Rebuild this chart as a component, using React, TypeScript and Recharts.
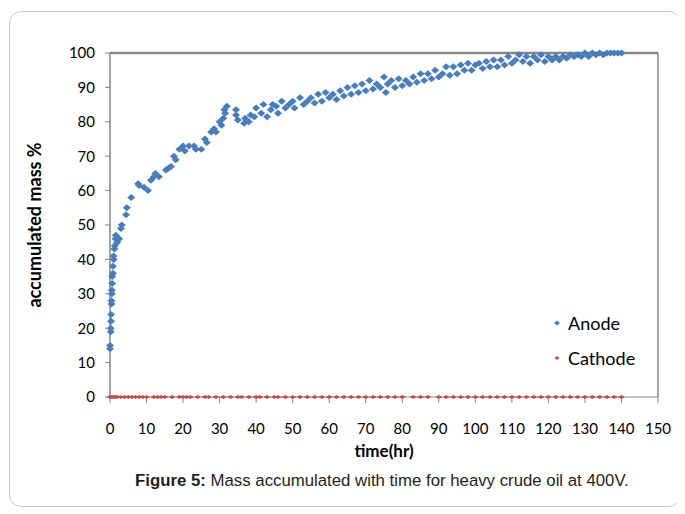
import React from 'react';
import { ScatterChart, Scatter, XAxis, YAxis } from 'recharts';

// anode readings: time (hr) and accumulated mass (%)
const anodeTime = [
  0, 0, 0.2, 0.2, 0.3, 0.3, 0.4, 0.4, 0.5, 0.5, 0.6, 0.6, 0.8, 0.8, 1, 1, 1.2, 1.3, 1.5, 1.6,
  2, 2.5, 3, 3.2, 4.4, 4.6, 5.8, 7.7, 8, 9.3, 10.4, 11.2, 12, 12.4, 13.4, 15.3, 16, 16.7, 17.5, 18,
  19, 20, 20.5, 21.6, 23, 23.5, 25, 26, 26.5, 27.7, 28.5, 29, 30, 30.5, 31, 31.3, 31.5, 32, 34.5, 34.5,
  35, 36.7, 37, 38, 38.5, 39.5, 40, 41.4, 42, 43, 44, 44.5, 45.5, 46, 47, 48, 49, 50, 50.5, 52,
  53, 54, 55, 56, 57, 58, 59, 60, 61, 62, 63, 64, 65, 66, 67, 68, 69, 70, 71, 72,
  73, 74, 75, 75.5, 76, 77, 78, 79, 80, 81, 82, 83, 84, 85, 86, 87, 88, 89, 90, 91,
  92, 93, 94, 95, 96, 97, 98, 99, 100, 101, 102, 103, 104, 105, 106, 107, 108, 109, 110, 111,
  112, 113, 114, 115, 116, 117, 118, 119, 120, 121, 122, 123, 124, 125, 126, 127, 128, 129, 130, 131,
  132, 133, 134, 135, 136, 137, 138, 139, 140,
];
const anodeMass = [
  14, 15, 19, 20, 22, 24, 27, 28, 30, 31, 33, 35, 36, 38, 40, 41, 43, 44, 46, 47,
  45, 46, 49, 50, 53, 55, 58, 62, 61.5, 61, 60, 63, 64, 65, 64, 66, 66.5, 67, 70, 69,
  72, 73, 71.5, 73, 73, 72, 72, 75, 74, 77, 78, 77, 80, 79, 81, 83.5, 82.5, 84.5, 83.5, 82,
  80.5, 79.6, 81, 80, 82, 81.5, 84, 82.5, 85, 81.5, 83.5, 85, 84.5, 82.5, 86, 84, 85, 86, 84, 87,
  85, 86, 87, 85.5, 88, 86, 88.5, 87, 88, 86.5, 89, 87.5, 90, 88, 90.5, 88.5, 91, 89, 92, 89.5,
  91, 90, 93, 88.5, 91, 92, 90, 92.5, 90.5, 92, 91, 93, 91.5, 94, 92, 94, 92.5, 95, 93, 94,
  96, 93.5, 96, 94, 96.5, 95, 97, 95, 96.5, 97, 95.5, 97.5, 96, 98, 96, 98, 96.5, 99, 97, 98,
  99.5, 97.5, 99, 97, 99, 98, 99.5, 97.5, 99, 98, 99, 98, 99, 98.5, 99.5, 99, 99.5, 99, 100, 99,
  100, 99.5, 100, 99.5, 100, 100, 100, 100, 100,
];

// cathode readings stay at zero
const cathodeTime = [
  0, 0.5, 1, 1.5, 2, 3, 4, 5, 6, 7, 8, 9, 10, 12, 13, 14, 15, 17, 19, 20,
  21, 22, 24, 26, 27, 29, 31, 33, 35, 36, 38, 40, 41, 43, 45, 46, 48, 50, 52, 54,
  56, 58, 60, 62, 64, 66, 68, 70, 72, 74, 76, 78, 80, 83, 85, 87, 90, 92, 94, 96,
  98, 100, 102, 104, 106, 108, 110, 112, 114, 116, 118, 120, 122, 124, 126, 128, 130, 132, 134, 136,
  138, 140,
];
const cathodeMass = [
  0, 0, 0, 0, 0, 0, 0, 0, 0, 0, 0, 0, 0, 0, 0, 0, 0, 0, 0, 0,
  0, 0, 0, 0, 0, 0, 0, 0, 0, 0, 0, 0, 0, 0, 0, 0, 0, 0, 0, 0,
  0, 0, 0, 0, 0, 0, 0, 0, 0, 0, 0, 0, 0, 0, 0, 0, 0, 0, 0, 0,
  0, 0, 0, 0, 0, 0, 0, 0, 0, 0, 0, 0, 0, 0, 0, 0, 0, 0, 0, 0,
  0, 0,
];

const xTicks = [0, 10, 20, 30, 40, 50, 60, 70, 80, 90, 100, 110, 120, 130, 140, 150];
const yTicks = [0, 10, 20, 30, 40, 50, 60, 70, 80, 90, 100];

const anodeData = anodeTime.map((t, i) => ({ t, v: anodeMass[i] }));
const cathodeData = cathodeTime.map((t, i) => ({ t, v: cathodeMass[i] }));

const BLUE = '#4a7ebb';
const RED = '#c0504d';
const AXIS = '#868686';
const FONT = 'Lato, "Open Sans", sans-serif';

const Diamond = ({ cx, cy }) => (
  <polygon
    points={`${cx - 4},${cy} ${cx},${cy - 3.5} ${cx + 4},${cy} ${cx},${cy + 3.5}`}
    fill={BLUE}
  />
);

const Dash = ({ cx, cy }) => (
  <polygon
    points={`${cx - 3.5},${cy} ${cx},${cy - 2} ${cx + 3.5},${cy} ${cx},${cy + 2}`}
    fill={RED}
  />
);

const LegendBox = () => {
  const items = [
    { name: 'Anode', color: BLUE, w: 3, h: 2.5 },
    { name: 'Cathode', color: RED, w: 2.5, h: 2 },
  ];
  return (
    <div style={{
      position: 'absolute', left: 542, top: 293,
      fontFamily: FONT, fontSize: 18, color: '#000',
    }}>
      {items.map(it => (
        <div key={it.name} style={{ display: 'flex', alignItems: 'center', height: 35 }}>
          <svg width={10} height={10}>
            <polygon
              points={`${5 - it.w},5 5,${5 - it.h} ${5 + it.w},5 5,${5 + it.h}`}
              fill={it.color}
            />
          </svg>
          <span style={{ marginLeft: 6 }}>{it.name}</span>
        </div>
      ))}
    </div>
  );
};

const App = () => {
  return (
    <div style={{
      position: 'relative',
      width: 670,
      height: 494,
      marginTop: 3,
      marginLeft: 1,
      border: '1px solid #c8c8c8',
      borderRadius: 12,
      background: '#fff',
    }}>
      <ScatterChart
        width={668}
        height={460}
        margin={{ top: 40, right: 18, left: 0, bottom: 15 }}
      >
        <XAxis
          xAxisId="top"
          orientation="top"
          type="number"
          dataKey="t"
          domain={[0, 150]}
          height={1}
          tick={false}
          tickLine={false}
          axisLine={{ stroke: AXIS, strokeWidth: 2.5 }}
        />
        <YAxis
          yAxisId="right"
          orientation="right"
          type="number"
          dataKey="v"
          domain={[0, 100]}
          width={2}
          tick={false}
          tickLine={false}
          axisLine={{ stroke: AXIS, strokeWidth: 1.5 }}
        />
        <XAxis
          xAxisId="main"
          type="number"
          dataKey="t"
          domain={[0, 150]}
          ticks={xTicks}
          interval={0}
          height={60}
          tickSize={6}
          tickMargin={20}
          axisLine={{ stroke: AXIS }}
          tickLine={{ stroke: AXIS }}
          tick={{ fill: '#000', fontSize: 15, fontFamily: FONT }}
          label={{
            value: 'time(hr)',
            position: 'insideBottom',
            offset: 0,
            style: { fill: '#000', fontSize: 17, fontWeight: 700, fontFamily: FONT },
          }}
        />
        <YAxis
          yAxisId="main"
          type="number"
          dataKey="v"
          domain={[0, 100]}
          ticks={yTicks}
          interval={0}
          width={100}
          tickSize={5}
          tickMargin={10}
          axisLine={{ stroke: AXIS, strokeWidth: 1.5 }}
          tickLine={{ stroke: AXIS }}
          tick={{ fill: '#000', fontSize: 15, fontFamily: FONT }}
          label={{
            value: 'accumulated mass %',
            angle: -90,
            position: 'insideLeft',
            offset: 25,
            style: { textAnchor: 'middle', fill: '#000', fontSize: 18, fontWeight: 700, fontFamily: FONT },
          }}
        />
        <Scatter
          name="Anode"
          data={anodeData}
          xAxisId="main"
          yAxisId="main"
          fill={BLUE}
          shape={<Diamond />}
          isAnimationActive={false}
        />
        <Scatter
          name="Cathode"
          data={cathodeData}
          xAxisId="main"
          yAxisId="main"
          fill={RED}
          shape={<Dash />}
          isAnimationActive={false}
        />
      </ScatterChart>
      <LegendBox />
      <div style={{
        position: 'absolute',
        left: 125,
        top: 459,
        whiteSpace: 'nowrap',
        fontFamily: '"Liberation Sans", Arial, sans-serif',
        fontSize: 16.8,
        color: '#231f20',
      }}>
        <b>Figure 5:</b> Mass accumulated with time for heavy crude oil at 400V.
      </div>
    </div>
  );
};

export default App;
